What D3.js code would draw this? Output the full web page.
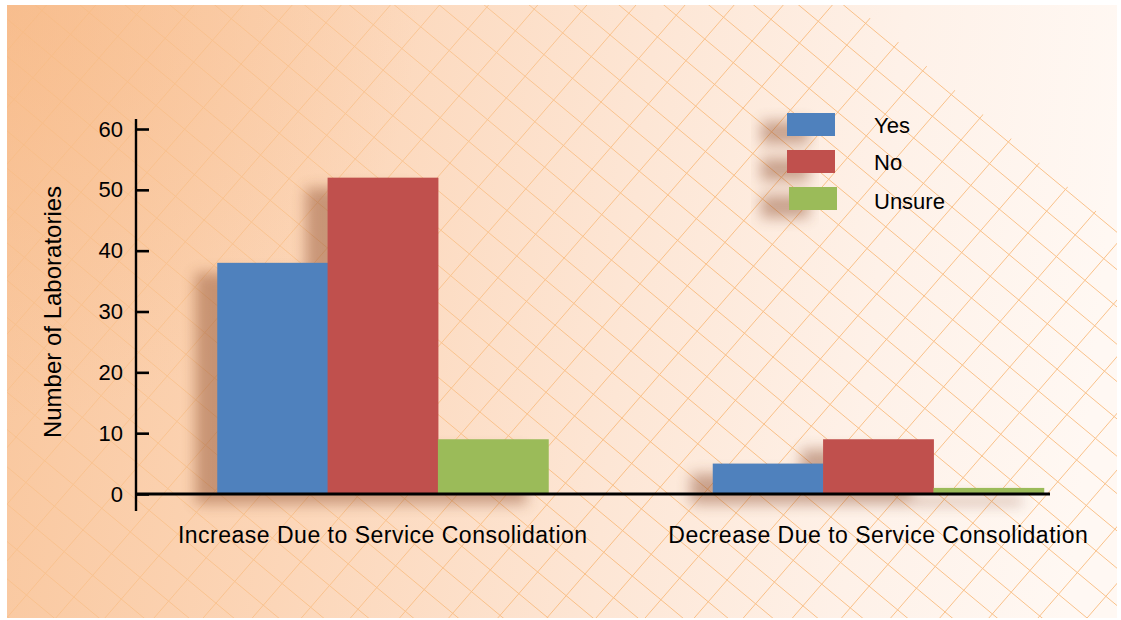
<!DOCTYPE html>
<html><head><meta charset="utf-8">
<script src="https://cdn.jsdelivr.net/npm/d3@7"></script>
<style>
body{margin:0;background:#fff}
svg{display:block}
text{font-family:"Liberation Sans",Arial,Helvetica,sans-serif;fill:#000}
</style>
</head><body>
<svg id="c" width="1121" height="620"></svg>
<script>
// ---- data ----
const categories = ["Increase Due to Service Consolidation", "Decrease Due to Service Consolidation"];
const seriesNames = ["Yes", "No", "Unsure"];
const yesValues = [38, 5];
const noValues = [52, 9];
const unsureValues = [9, 1];
const yTicks = [0, 10, 20, 30, 40, 50, 60];
const seriesColors = ["#4f81bd", "#c0504d", "#9bbb59"];
const yTitle = "Number of Laboratories";

const seriesValues = [yesValues, noValues, unsureValues];
const rows = [];
categories.forEach((c, i) => seriesNames.forEach((s, j) => rows.push({cat: c, ser: s, val: seriesValues[j][i], color: seriesColors[j]})));

const W = 1121, H = 620;
const svg = d3.select("#c");
const defs = svg.append("defs");

// background gradients
const lg = defs.append("linearGradient").attr("id", "bg").attr("gradientUnits", "userSpaceOnUse")
  .attr("x1", 0).attr("y1", 0).attr("x2", W).attr("y2", 120);
[[0, "#f9c69c"], [0.3, "#fcd6b8"], [0.58, "#fde6d5"], [0.8, "#fef1e8"], [1, "#fff8f3"]]
  .forEach(([o, c]) => lg.append("stop").attr("offset", o).attr("stop-color", c));
const rg = defs.append("radialGradient").attr("id", "tl").attr("gradientUnits", "userSpaceOnUse")
  .attr("cx", 0).attr("cy", 0).attr("r", 420);
rg.append("stop").attr("offset", 0).attr("stop-color", "#f6b47e").attr("stop-opacity", 0.5);
rg.append("stop").attr("offset", 1).attr("stop-color", "#f6b47e").attr("stop-opacity", 0);

const mg = defs.append("linearGradient").attr("id", "gm").attr("gradientUnits", "userSpaceOnUse")
  .attr("x1", 0).attr("y1", 0).attr("x2", 700).attr("y2", 250);
mg.append("stop").attr("offset", 0).attr("stop-color", "#fff").attr("stop-opacity", 0.3);
mg.append("stop").attr("offset", 1).attr("stop-color", "#fff").attr("stop-opacity", 0.85);
defs.append("mask").attr("id", "gridmask").append("rect")
  .attr("x", 0).attr("y", 0).attr("width", W).attr("height", H).attr("fill", "url(#gm)");

defs.append("clipPath").attr("id", "gridclip").append("polygon")
  .attr("points", "7,5 855,5 1117,229 1117,618 7,618");

const blur = defs.append("filter").attr("id", "shadow").attr("x", "-20%").attr("y", "-20%").attr("width", "140%").attr("height", "140%");
blur.append("feGaussianBlur").attr("stdDeviation", 7);

svg.append("rect").attr("x", 7).attr("y", 5).attr("width", 1110).attr("height", 613).attr("fill", "url(#bg)");
svg.append("rect").attr("x", 7).attr("y", 5).attr("width", 1110).attr("height", 613).attr("fill", "url(#tl)");

// diagonal lattice
const O = [1000, 321.7], u = [28.55, 23.73], v = [18.8, -21.7];
const gridG = svg.append("g").attr("clip-path", "url(#gridclip)").attr("mask", "url(#gridmask)")
  .attr("stroke", "#f8b878").attr("stroke-width", 1).attr("fill", "none");
const lines = [];
for (let k = -70; k <= 70; k++) {
  const pa = [O[0] + k * v[0], O[1] + k * v[1]];
  lines.push([[pa[0] - 80 * u[0], pa[1] - 80 * u[1]], [pa[0] + 80 * u[0], pa[1] + 80 * u[1]]]);
  const pb = [O[0] + k * u[0], O[1] + k * u[1]];
  lines.push([[pb[0] - 80 * v[0], pb[1] - 80 * v[1]], [pb[0] + 80 * v[0], pb[1] + 80 * v[1]]]);
}
gridG.selectAll("line").data(lines).join("line")
  .attr("x1", d => d[0][0]).attr("y1", d => d[0][1]).attr("x2", d => d[1][0]).attr("y2", d => d[1][1]);

// scales
const x0 = d3.scaleBand().domain(categories).range([135, 1126]).paddingInner(0.332).paddingOuter(0.166);
const x1 = d3.scaleBand().domain(seriesNames).range([0, x0.bandwidth()]);
const y = d3.scaleLinear().domain([0, 60]).range([494, 129]);

// bar shadows
svg.append("g").attr("filter", "url(#shadow)").attr("opacity", 0.45)
  .selectAll("rect").data(rows).join("rect")
  .attr("x", d => x0(d.cat) + x1(d.ser) - 22)
  .attr("y", d => y(d.val) + 10)
  .attr("width", x1.bandwidth() + 0.5)
  .attr("height", d => y(0) - y(d.val))
  .attr("fill", "#8a4a2a");

// bars
svg.append("g").selectAll("rect").data(rows).join("rect")
  .attr("x", d => x0(d.cat) + x1(d.ser))
  .attr("y", d => y(d.val))
  .attr("width", x1.bandwidth() + 0.5)
  .attr("height", d => y(0) - y(d.val))
  .attr("fill", d => d.color);

// axes
const yAxis = d3.axisLeft(y).tickValues(yTicks).tickSizeInner(-13).tickSizeOuter(0).tickPadding(13);
const ya = svg.append("g").attr("transform", "translate(136,0)").call(yAxis);
ya.select(".domain").remove();
ya.attr("font-family", null);
ya.selectAll(".tick line").attr("stroke", "#000").attr("stroke-width", 2.6);
ya.selectAll(".tick text").attr("font-size", 22);
ya.append("line").attr("x1", 0).attr("x2", 0).attr("y1", y(60) - 10).attr("y2", y(0) + 17)
  .attr("stroke", "#000").attr("stroke-width", 2.4);

svg.append("line").attr("x1", 136).attr("x2", 1050).attr("y1", y(0)).attr("y2", y(0))
  .attr("stroke", "#000").attr("stroke-width", 2.8);

// category labels
svg.append("g").selectAll("text").data(categories).join("text")
  .attr("x", d => x0(d) + x0.bandwidth() / 2)
  .attr("y", 543)
  .attr("text-anchor", "middle")
  .attr("font-size", 23)
  .attr("letter-spacing", 0.5)
  .text(d => d);

// y title
svg.append("text").attr("transform", "translate(61,312) rotate(-90)")
  .attr("text-anchor", "middle").attr("font-size", 24).text(yTitle);

// legend
const leg = svg.append("g").attr("transform", "translate(787,113)");
leg.append("g").attr("filter", "url(#shadow)").attr("opacity", 0.45)
  .selectAll("rect").data(seriesNames).join("rect")
  .attr("x", -26).attr("y", (d, i) => i * 37 + 8).attr("width", 48).attr("height", 23).attr("fill", "#8a4a2a");
leg.selectAll("rect.sw").data(seriesNames).join("rect").attr("class", "sw")
  .attr("x", (d, i) => i === 2 ? 2 : 0).attr("y", (d, i) => i * 37)
  .attr("width", 48).attr("height", 23).attr("fill", (d, i) => seriesColors[i]);
leg.selectAll("text").data(seriesNames).join("text")
  .attr("x", 87).attr("y", (d, i) => i * 37 + 20 + (i === 2 ? 2 : 0))
  .attr("font-size", 22).text(d => d);
</script>
</body></html>
